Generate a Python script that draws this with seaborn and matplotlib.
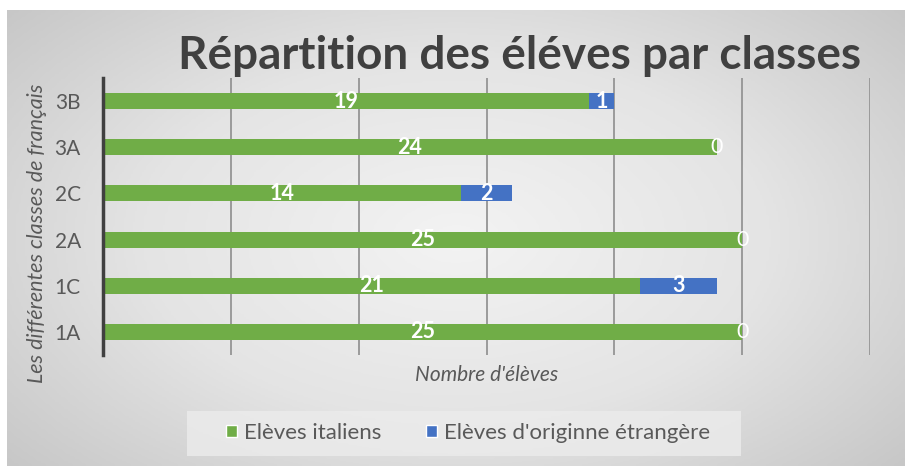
import numpy as np
import pandas as pd
import matplotlib
matplotlib.use("Agg")
import matplotlib.pyplot as plt
from matplotlib.patches import Patch, Rectangle
import seaborn as sns

# data
classes = ["3B", "3A", "2C", "2A", "1C", "1A"]
italiens = [19, 24, 14, 25, 21, 25]
etrangers = [1, 0, 2, 0, 3, 0]

GREEN = "#70AD47"
BLUE = "#4472C4"
TXT = "#595959"

sns.set_theme(style="white")
plt.rcParams["font.family"] = ["Lato", "DejaVu Sans"]

df = pd.DataFrame({"classe": classes, "italiens": italiens, "etrangers": etrangers})
df["total"] = df["italiens"] + df["etrangers"]

fig = plt.figure(figsize=(9.05, 4.66), dpi=100)
fig.patch.set_facecolor("white")

# grey radial gradient background like the Excel chart area
bg = fig.add_axes([7 / 905, 0, 898 / 905, 456 / 466], zorder=0)
yy, xx = np.mgrid[0:1:200j, 0:1:400j]
r = np.sqrt(((xx - 0.5) / 0.7) ** 2 + ((yy - 0.5) / 0.8) ** 2)
bg.imshow(np.clip(r, 0, 1), cmap=sns.blend_palette(["#f3f3f3", "#e4e4e4", "#c4c4c4"], as_cmap=True),
          aspect="auto", extent=[0, 1, 0, 1], vmin=0, vmax=1)
bg.axis("off")

ax = fig.add_axes([103 / 905, 1 - 355 / 466, 767 / 905, 277 / 466], zorder=1)
ax.set_facecolor("none")

# stacked bars: total in blue underneath, italian part in green on top
sns.barplot(data=df, y="classe", x="total", color=BLUE, width=0.35, saturation=1,
            orient="h", ax=ax, zorder=3, linewidth=0)
sns.barplot(data=df, y="classe", x="italiens", color=GREEN, width=0.35, saturation=1,
            orient="h", ax=ax, zorder=4, linewidth=0)

for i, row in df.iterrows():
    ax.text(row["italiens"] / 2, i, str(row["italiens"]), color="white", fontsize=15.5,
            fontweight="bold", ha="center", va="center", zorder=5)
    ax.text(row["italiens"] + row["etrangers"] / 2, i, str(row["etrangers"]), color="white",
            fontsize=15.5, fontweight="bold" if row["etrangers"] else "normal",
            ha="center", va="center", zorder=5)

ax.set_xlim(0, 30)
ax.set_xticks(range(0, 31, 5))
ax.set_xticklabels([])
for x in range(5, 31, 5):
    ax.axvline(x, color="#9a9a9a", lw=1.4, zorder=1)
ax.tick_params(axis="both", length=0)
ax.tick_params(axis="y", labelsize=15, labelcolor=TXT, pad=16)
for s in ["top", "right", "bottom"]:
    ax.spines[s].set_visible(False)
ax.spines["left"].set_color("#404040")
ax.spines["left"].set_linewidth(2.5)
ax.spines["left"].set_zorder(6)

ax.set_xlabel("Nombre d'élèves", fontsize=15, style="italic", color=TXT)
ax.xaxis.set_label_coords(0.5, -0.037)
ax.set_ylabel("Les différentes classes de français", fontsize=15.5, style="italic", color=TXT)
ax.yaxis.set_label_coords(-0.073, 0.44)

fig.text(520 / 905, 1 - 56 / 466, "Répartition des éléves par classes", fontsize=33,
         fontweight="bold", color="#404040", ha="center", va="center")

# light legend panel, wider than its entries as in the reference
fig.patches.append(Rectangle((187 / 905, 1 - 456 / 466), 554 / 905, 45 / 466,
                             transform=fig.transFigure, facecolor="#ececec", alpha=0.8,
                             edgecolor="none", zorder=2))
handles = [Patch(facecolor=GREEN, label="Elèves italiens"),
           Patch(facecolor=BLUE, label="Elèves d'originne étrangère")]
leg = fig.legend(handles=handles, loc="center", bbox_to_anchor=(468 / 905, 1 - 433 / 466),
                 ncol=2, frameon=False, fontsize=16, handlelength=0.5, handleheight=0.5,
                 handletextpad=0.3, columnspacing=2.0)
leg.set_zorder(3)
for t in leg.get_texts():
    t.set_color(TXT)

fig.savefig("out.png", dpi=100)
